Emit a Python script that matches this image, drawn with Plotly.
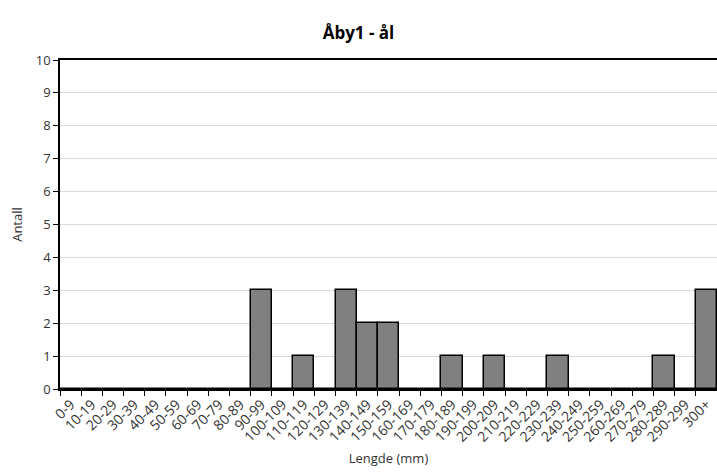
import plotly.graph_objects as go

categories = ["0-9", "10-19", "20-29", "30-39", "40-49", "50-59", "60-69", "70-79", "80-89",
              "90-99", "100-109", "110-119", "120-129", "130-139", "140-149", "150-159",
              "160-169", "170-179", "180-189", "190-199", "200-209", "210-219", "220-229",
              "230-239", "240-249", "250-259", "260-269", "270-279", "280-289", "290-299", "300+"]
counts = [0, 0, 0, 0, 0, 0, 0, 0, 0,
          3, 0, 1, 0, 3, 2, 2,
          0, 0, 1, 0, 1, 0, 0,
          1, 0, 0, 0, 0, 1, 0, 3]

font_family = "Open Sans, sans-serif"

fig = go.Figure(go.Bar(
    x=categories, y=counts,
    marker=dict(color="#808080", line=dict(color="#000000", width=1.5)),
    width=1.0,
))

fig.update_layout(
    width=717, height=472,
    margin=dict(l=60, r=0, t=60, b=83),
    paper_bgcolor="white", plot_bgcolor="white",
    bargap=0,
    showlegend=False,
    title=dict(text="<b>Åby1 - ål</b>", x=0.5, xanchor="center", y=0.93, yanchor="middle",
               font=dict(family=font_family, size=17, color="#000000")),
    font=dict(family=font_family, size=13, color="#333333"),
)

fig.update_xaxes(
    type="category",
    tickangle=-45,
    tickson="boundaries",
    ticks="outside", ticklen=5, tickcolor="#000000",
    showline=True, linecolor="#000000", linewidth=1.5, mirror=True,
    showgrid=False,
    tickfont=dict(size=14, color="#333333"),
    title=dict(text="Lengde (mm)", font=dict(size=13, color="#333333"), standoff=9),
)

fig.update_yaxes(
    range=[0, 10], dtick=1,
    ticks="outside", ticklen=5, tickcolor="#000000",
    showline=True, linecolor="#000000", linewidth=1.5,
    showgrid=True, gridcolor="#d9d9d9", gridwidth=1,
    zeroline=False,
    tickfont=dict(size=13, color="#333333"),
    title=dict(text="Antall", font=dict(size=13, color="#333333"), standoff=10),
)

fig.write_html("out.html")
